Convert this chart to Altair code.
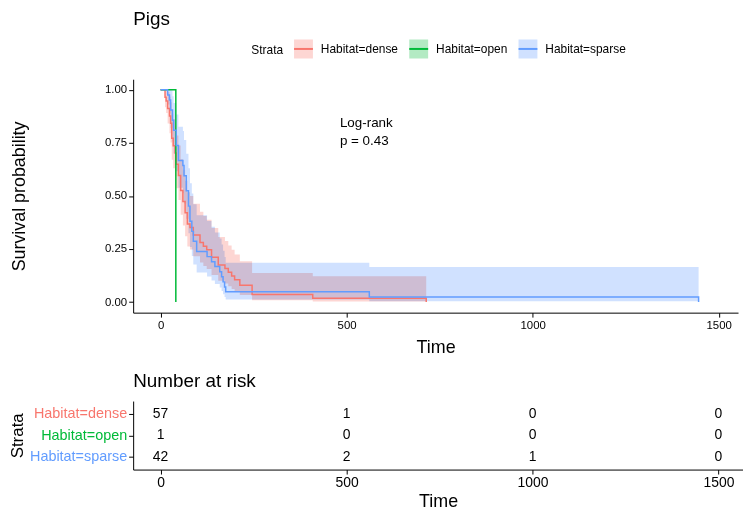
import altair as alt
import pandas as pd

# ---------------- data ----------------
strata = ["Habitat=dense", "Habitat=open", "Habitat=sparse"]
colors = ["#F8766D", "#00BA38", "#619CFF"]
ribbon_colors = ["#FDD6D3", "#B3EAC3", "#D0E1FF"]

dense_time = [0, 12, 15, 19, 24, 27, 30, 34, 39, 42, 48, 54, 60, 66, 72, 79, 88, 106, 115, 124,
              137, 155, 173, 182, 191, 199, 213, 246, 409, 714]
dense_surv = [1.0, .965, .947, .912, .877, .842, .772, .737, .702, .649, .596, .526, .474, .421, .368,
              .351, .316, .281, .263, .246, .211, .175, .158, .140, .123, .105, .079, .035, .0175, 0.0]
dense_lower = [1.0, .918, .891, .841, .796, .752, .670, .631, .593, .536, .481, .411, .361, .310, .262,
               .247, .216, .186, .170, .156, .128, .100, .087, .074, .062, .049, .033, .009, .0025, .0025]
dense_upper = [1.0, 1.0, 1.0, .989, .967, .942, .889, .861, .831, .785, .738, .673, .623, .571, .517,
               .500, .463, .426, .406, .388, .349, .307, .288, .266, .246, .224, .192, .137, .122, .122]

open_time = [0, 41]
open_surv = [1.0, 0.0]
open_lower = [1.0, 1.0]
open_upper = [1.0, 1.0]

sparse_time = [0, 19, 24, 27, 32, 35, 42, 48, 60, 63, 69, 75, 79, 84, 88, 97, 125, 137, 146, 159,
               164, 168, 172, 175, 561, 1446]
sparse_surv = [1.0, .976, .952, .905, .857, .810, .738, .667, .643, .595, .524, .452, .381, .333, .286,
               .238, .214, .190, .167, .143, .119, .095, .071, .048, .024, 0.0]
sparse_lower = [1.0, .931, .889, .820, .757, .700, .616, .539, .513, .464, .393, .324, .259, .217, .177,
                .139, .120, .102, .085, .068, .052, .037, .024, .0125, .0035, .0035]
sparse_upper = [1.0, 1.0, 1.0, .998, .970, .938, .884, .826, .806, .764, .699, .631, .560, .511, .461,
                .409, .382, .355, .328, .300, .271, .242, .212, .185, .165, .165]

risk_times = [0, 500, 1000, 1500]
risk_dense = [57, 1, 0, 0]
risk_open = [1, 0, 0, 0]
risk_sparse = [42, 2, 1, 0]

pval_lines = ["Log-rank", "p = 0.43"]
pval_pos = [482, 0.875]

# ---------------- tables ----------------
rows = []
for name, t, s, lo, up in [
    (strata[0], dense_time, dense_surv, dense_lower, dense_upper),
    (strata[1], open_time, open_surv, open_lower, open_upper),
    (strata[2], sparse_time, sparse_surv, sparse_lower, sparse_upper),
]:
    for i in range(len(t)):
        rows.append({"time": t[i], "surv": s[i], "lower": lo[i], "upper": up[i], "strata": name})
curves = pd.DataFrame(rows)

risk_rows = []
for name, vals in zip(strata, [risk_dense, risk_open, risk_sparse]):
    for t, n in zip(risk_times, vals):
        risk_rows.append({"strata": name, "time": t, "n": n})
risk = pd.DataFrame(risk_rows)

pval_df = pd.DataFrame({"time": [pval_pos[0]], "y": [pval_pos[1]], "label": [pval_lines]})

FONT = "Liberation Sans"

xscale = alt.Scale(domain=[-73.7, 1552], nice=False, zero=False)
yscale = alt.Scale(domain=[-0.05, 1.05], nice=False, zero=False)

xaxis = alt.Axis(title="Time", values=risk_times, labelFontSize=11.5, titleFontSize=18,
                 titlePadding=8, format="d")
yaxis = alt.Axis(title="Survival probability", values=[0, 0.25, 0.5, 0.75, 1.0], format=".2f",
                 labelFontSize=11.5, titleFontSize=18, titlePadding=76)

# legend key: light square with a coloured line through the middle
key_path = "M-1,0H1V1H-1V-1H1V0"

legend = alt.Legend(
    title="Strata", orient="none", legendX=119, legendY=-41, direction="horizontal",
    titleOrient="left", titleFontSize=12, titleFontWeight="normal", titleFont=FONT,
    labelFont=FONT, labelFontSize=12, labelOffset=7, columnPadding=7, titlePadding=9,
    symbolSize=361, titleAnchor="middle", titleBaseline="middle", labelColor="black",
    titleColor="black", symbolType=key_path, symbolStrokeWidth=2, symbolDash=[19, 300],
    symbolStrokeColor=alt.ExprRef("scale('stroke', datum.value)"),
)

area = alt.Chart(curves).mark_area(interpolate="step-after", blend="multiply").encode(
    x=alt.X("time:Q", scale=xscale, axis=xaxis),
    y=alt.Y("lower:Q", scale=yscale, axis=yaxis),
    y2="upper:Q",
    fill=alt.Fill("strata:N", scale=alt.Scale(domain=strata, range=ribbon_colors), legend=legend),
)

line = alt.Chart(curves).mark_line(interpolate="step-after", strokeWidth=1.5).encode(
    x=alt.X("time:Q", scale=xscale),
    y=alt.Y("surv:Q", scale=yscale),
    stroke=alt.Stroke("strata:N", scale=alt.Scale(domain=strata, range=colors), legend=None),
)

pval = alt.Chart(pval_df).mark_text(align="left", baseline="top", fontSize=13.5, font=FONT,
                                    lineHeight=18, color="black").encode(
    x=alt.X("time:Q", scale=xscale),
    y=alt.Y("y:Q", scale=yscale),
    text="label",
)

top = alt.layer(area, line, pval).properties(
    width=609, height=235,
    title=alt.Title("Pigs", anchor="start", frame="group", fontSize=19, fontWeight="normal",
                    font=FONT, color="black", offset=51),
)

label_color = alt.ExprRef(
    "datum.value == 'Habitat=dense' ? '#F8766D' : (datum.value == 'Habitat=open' ? '#00BA38' : '#619CFF')")

table = alt.Chart(risk).mark_text(fontSize=14, font=FONT, color="black").encode(
    x=alt.X("time:Q", scale=alt.Scale(domain=[-73.7, 1566], nice=False, zero=False),
            axis=alt.Axis(title="Time", values=risk_times, labelFontSize=14, titleFontSize=18,
                          titlePadding=3, format="d")),
    y=alt.Y("strata:N", scale=alt.Scale(type="point", domain=strata, padding=0.6),
            axis=alt.Axis(title="Strata", labelFontSize=14.5, titleFontSize=17, titlePadding=3,
                          labelColor=label_color)),
    text="n:Q",
).properties(
    width=614, height=69,
    title=alt.Title("Number at risk", anchor="start", frame="group", fontSize=19,
                    fontWeight="normal", font=FONT, color="black", offset=10),
)

chart = alt.vconcat(top, table, spacing=16).properties(
    padding={"left": 0, "top": 0, "right": 0, "bottom": 0},
    background="white",
).configure_view(stroke=None).configure_axis(
    grid=False, domainColor="black", tickColor="black", labelColor="black", titleColor="black",
    labelFont=FONT, titleFont=FONT, titleFontWeight="normal", tickSize=4.5, domainWidth=1,
    tickWidth=1, labelPadding=2,
)

chart.save("out.html", embed_options={"renderer": "svg", "actions": False})
